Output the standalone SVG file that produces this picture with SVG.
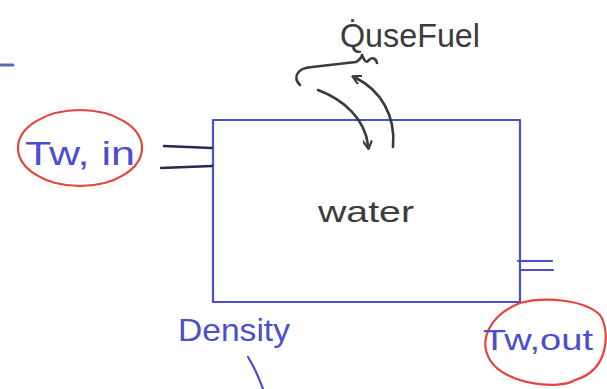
<svg xmlns="http://www.w3.org/2000/svg" width="607" height="389" viewBox="0 0 607 389">
  <style>
    .ink-blue { fill: none; stroke: #4a4fcc; stroke-width: 2.2; stroke-linecap: round; stroke-linejoin: round; }
    .ink-red { fill: none; stroke: #e8423f; stroke-width: 2.2; stroke-linecap: round; }
    .ink-dark { fill: none; stroke: #3b3b3b; stroke-width: 2.6; stroke-linecap: round; stroke-linejoin: round; }
    .ink-port { fill: none; stroke: #26285a; stroke-width: 2.4; stroke-linecap: round; }
    .lbl-blue { fill: #4a4fcc; font-family: "Liberation Sans", "DejaVu Sans", sans-serif; }
    .lbl-dark { fill: #3b3b3b; font-family: "Liberation Sans", "DejaVu Sans", sans-serif; }
  </style>
  <defs>
    <marker id="head" viewBox="0 0 10 10" refX="5" refY="5" markerWidth="10" markerHeight="10" orient="auto-start-reverse" markerUnits="userSpaceOnUse">
      <path d="M0,0 L9,5 L0,10" fill="none" stroke="#3b3b3b" stroke-width="2.2"/>
    </marker>
  </defs>

  <rect width="607" height="389" fill="#ffffff"/>

  <!-- stray pen mark at the left edge -->
  <path d="M1,65 L13,65" fill="none" stroke="#5a6aa8" stroke-width="3" stroke-linecap="round"/>

  <!-- water volume -->
  <g id="water">
    <rect class="ink-blue" x="213" y="120" width="307" height="182"/>
    <text class="lbl-dark" x="318" y="222" font-size="30" textLength="96" lengthAdjust="spacingAndGlyphs">water</text>
  </g>

  <!-- heat input label -->
  <g id="qusefuel">
    <text class="lbl-dark" x="340" y="47" font-size="34" textLength="140" lengthAdjust="spacingAndGlyphs">Q̇useFuel</text>
    <path class="ink-dark" d="M300,85 C293,78 296,68 312,67 L356,62 C360,60 362,56 362,55 C364,60 366,64 369,60 C372,57 376,58 377,63"/>
  </g>

  <!-- inlet temperature -->
  <g id="tw-in">
    <ellipse class="ink-red" cx="80" cy="148" rx="62" ry="38"/>
    <text class="lbl-blue" x="25" y="165" font-size="34" textLength="110" lengthAdjust="spacingAndGlyphs">Tw, in</text>
  </g>

  <!-- outlet temperature -->
  <g id="tw-out">
    <path class="ink-red" d="M520,303 C490,315 478,340 490,360 C505,385 560,390 575,380 C610,370 610,330 600,315 C585,300 545,296 520,303"/>
    <text class="lbl-blue" x="483" y="350" font-size="30" textLength="110" lengthAdjust="spacingAndGlyphs">Tw,out</text>
  </g>

  <!-- density -->
  <g id="density">
    <text class="lbl-blue" x="178" y="341" font-size="32" textLength="112" lengthAdjust="spacingAndGlyphs">Density</text>
  </g>

  <!-- connectors -->
  <g id="connectors">
    <path class="ink-port" d="M164,146 L212,148"/>
    <path class="ink-port" d="M161,168 L212,166"/>
    <path class="ink-blue" d="M518,261 L552,261"/>
    <path class="ink-blue" d="M520,270 L553,270"/>
    <path class="ink-dark" d="M318,90 C345,100 365,120 368,145" marker-end="url(#head)"/>
    <path class="ink-dark" d="M393,147 C396,115 380,90 356,78" marker-end="url(#head)"/>
    <path class="ink-blue" d="M248,357 C253,365 259,378 263,389"/>
  </g>
</svg>
